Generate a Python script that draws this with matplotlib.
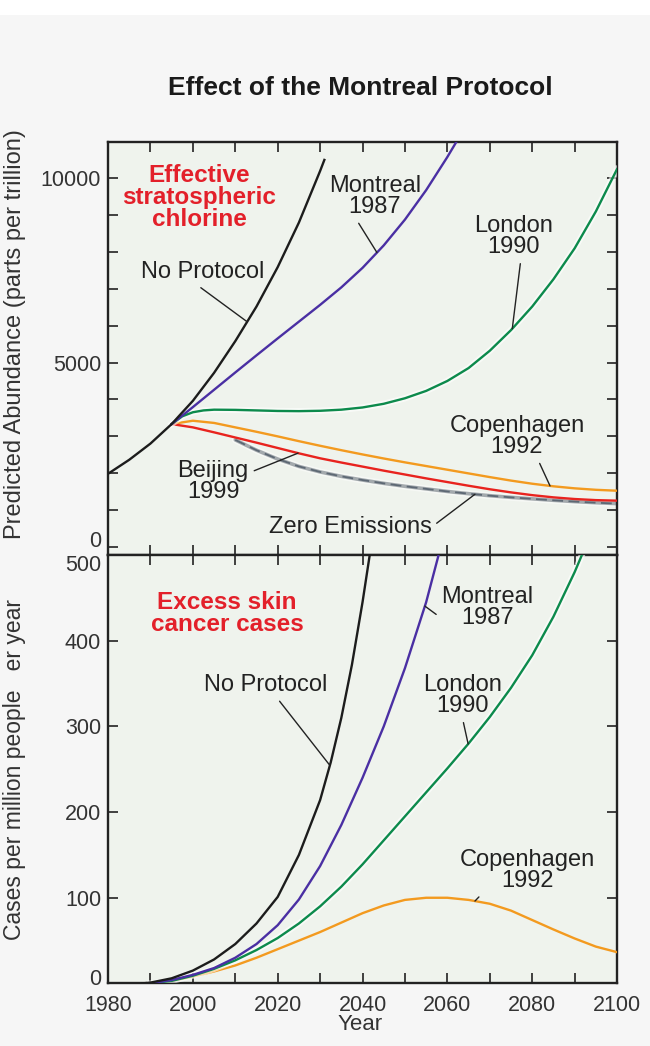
import matplotlib
matplotlib.use("Agg")
import matplotlib.pyplot as plt
import matplotlib.patheffects as pe
from matplotlib.patches import Rectangle
import numpy as np

plt.rcParams['font.family'] = ['Liberation Sans', 'DejaVu Sans']

# --- chlorine (parts per trillion) ---
yr_noprot_cl = [1980, 1985, 1990, 1995, 2000, 2005, 2010, 2015, 2020, 2025, 2030, 2031]
noprot_cl = [1980, 2360, 2800, 3330, 3960, 4720, 5580, 6520, 7590, 8800, 10200, 10500]

yr_montreal_cl = [1995, 2000, 2005, 2010, 2015, 2020, 2025, 2030, 2035, 2040, 2045, 2050, 2055, 2060, 2063]
montreal_cl = [3330, 3790, 4260, 4730, 5195, 5655, 6110, 6565, 7040, 7570, 8180, 8880, 9680, 10580, 11160]

yr_london_cl = [1995, 1997.5, 2000, 2002.5, 2005, 2010, 2015, 2020, 2025, 2030, 2035, 2040, 2045,
                2050, 2055, 2060, 2065, 2070, 2075, 2080, 2085, 2090, 2095, 2100]
london_cl = [3330, 3540, 3650, 3700, 3720, 3715, 3700, 3685, 3680, 3690, 3720, 3780, 3880,
             4030, 4230, 4500, 4850, 5320, 5880, 6520, 7260, 8100, 9100, 10250]

yr_long = [1995, 2000, 2005, 2010, 2015, 2020, 2025, 2030, 2035, 2040, 2045,
           2050, 2055, 2060, 2065, 2070, 2075, 2080, 2085, 2090, 2095, 2100]
copenhagen_cl = [3330, 3420, 3360, 3240, 3120, 2995, 2865, 2740, 2620, 2505, 2395,
                 2290, 2190, 2090, 1990, 1890, 1795, 1710, 1640, 1585, 1545, 1520]
beijing_cl = [3330, 3240, 3105, 2965, 2825, 2680, 2535, 2400, 2285, 2175, 2065,
              1960, 1855, 1755, 1655, 1560, 1475, 1400, 1340, 1295, 1265, 1250]

yr_zero_cl = [2010, 2015, 2020, 2025, 2030, 2035, 2040, 2045, 2050, 2055,
              2060, 2065, 2070, 2075, 2080, 2085, 2090, 2095, 2100]
zero_cl = [2900, 2620, 2380, 2180, 2030, 1910, 1810, 1720, 1640, 1570,
           1500, 1440, 1385, 1340, 1300, 1260, 1225, 1195, 1170]

# --- excess skin cancer cases per million people per year ---
yr_noprot_sc = [1988, 1990, 1995, 2000, 2005, 2010, 2015, 2020, 2025, 2030, 2032.5, 2035, 2037.5, 2040, 2042]
noprot_sc = [0, 1, 6, 15, 28, 46, 70, 101, 150, 214, 258, 310, 372, 445, 510]

yr_montreal_sc = [1990, 1995, 2000, 2005, 2010, 2015, 2020, 2025, 2030, 2035, 2040, 2045, 2050, 2055, 2059]
montreal_sc = [0, 4, 10, 18, 30, 46, 68, 98, 137, 185, 240, 300, 368, 445, 520]

yr_london_sc = [1990, 1995, 2000, 2005, 2010, 2015, 2020, 2025, 2030, 2035, 2040, 2045,
                2050, 2055, 2060, 2065, 2070, 2075, 2080, 2085, 2090, 2093]
london_sc = [0, 3, 9, 17, 27, 39, 53, 70, 90, 113, 139, 167,
             195, 223, 251, 280, 311, 345, 383, 428, 480, 515]

yr_copen_sc = [1990, 1995, 2000, 2005, 2010, 2015, 2020, 2025, 2030, 2035, 2040, 2045,
               2050, 2055, 2060, 2065, 2070, 2075, 2080, 2085, 2090, 2095, 2100]
copen_sc = [0, 3, 8, 14, 21, 30, 40, 50, 60, 71, 82, 91,
            97.5, 100, 100, 97.5, 93, 85, 74, 63, 52.5, 43, 36.5]

C_BLACK = '#1c1c1c'
C_PURPLE = '#4a2fa3'
C_GREEN = '#0c8a4c'
C_ORANGE = '#f39a1f'
C_RED = '#e8231e'
C_TXT = '#222222'
C_HEAD = '#e3202a'

fig = plt.figure(figsize=(6.5, 10.46), dpi=100)
fig.patch.set_facecolor('#f6f6f6')
fig.patches.append(Rectangle((0, 1 - 15 / 1046), 1, 15 / 1046, transform=fig.transFigure,
                             facecolor='white', edgecolor='none', zorder=-1))

fig.text(0.555, 1 - 95 / 1046, 'Effect of the Montreal Protocol', ha='center', va='baseline',
         fontsize=19, fontweight='bold', color='#1a1a1a')

ax1 = fig.add_axes([0.1662, 0.4694, 0.7831, 0.3948])
ax2 = fig.add_axes([0.1662, 0.0598, 0.7831, 0.4096])

halo = [pe.Stroke(linewidth=4.5, foreground='white', alpha=0.6), pe.Normal()]
lw = 1.7

# top panel
ax1.plot(yr_long, copenhagen_cl, color=C_ORANGE, lw=lw, zorder=3)
ax1.plot(yr_long, beijing_cl, color=C_RED, lw=lw, zorder=3)
ax1.plot(yr_zero_cl, zero_cl, color='#a3a9ad', lw=2.6, solid_capstyle='round', zorder=2,
         path_effects=[pe.Stroke(linewidth=5, foreground='white', alpha=0.45), pe.Normal()])
ax1.plot(yr_zero_cl, zero_cl, color='#5d6874', lw=1.3, dashes=(6, 3), zorder=2)
ax1.plot(yr_london_cl, london_cl, color=C_GREEN, lw=lw, zorder=3, path_effects=halo)
ax1.plot(yr_montreal_cl, montreal_cl, color=C_PURPLE, lw=lw, zorder=3)
ax1.plot(yr_noprot_cl, noprot_cl, color=C_BLACK, lw=lw, zorder=4)

# bottom panel
ax2.plot(yr_copen_sc, copen_sc, color=C_ORANGE, lw=lw, zorder=3)
ax2.plot(yr_london_sc, london_sc, color=C_GREEN, lw=lw, zorder=3, path_effects=halo)
ax2.plot(yr_montreal_sc, montreal_sc, color=C_PURPLE, lw=lw, zorder=3)
ax2.plot(yr_noprot_sc, noprot_sc, color=C_BLACK, lw=lw, zorder=4)

for ax in (ax1, ax2):
    ax.set_facecolor('#eff3ed')
    ax.set_xlim(1980, 2100)
    ax.set_xticks(np.arange(1980, 2101, 10))
    ax.tick_params(which='both', direction='in', length=7, width=1.2, top=True, right=True,
                   labelsize=15.5, labelcolor='#333333', pad=5, color='#222222')
    for s in ax.spines.values():
        s.set_linewidth(1.7)
        s.set_color('#222222')

ax1.set_ylim(-225, 10985)
ax1.set_yticks([0, 5000, 10000])
ax1.set_yticks(np.arange(0, 10001, 1000), minor=True)
ax1.tick_params(labelbottom=False)
ax1.get_yticklabels()[0].set_va('baseline')
ax1.set_ylabel('Predicted Abundance (parts per trillion)', fontsize=17, color='#333333')
ax1.yaxis.set_label_coords(-0.161, 0.535)

ax2.set_ylim(0, 500)
ax2.set_yticks(np.arange(0, 501, 100))
ax2.set_yticklabels(['', '100', '200', '300', '400', '500'])
ax2.get_yticklabels()[-1].set_va('top')
# the zero label sits a little above its tick so it clears the 1980 label
ax2.annotate('0', xy=(0, 0), xycoords=('axes fraction', 'data'), xytext=(-5, 3),
             textcoords='offset points', ha='right', va='center', fontsize=15.5, color='#333333')
ax2.set_xticklabels(['1980', '', '2000', '', '2020', '', '2040', '', '2060', '', '2080', '', '2100'])
ax2.tick_params(axis='x', pad=8)
ax2.set_ylabel('Cases per million people   er year', fontsize=16.5, color='#333333')
ax2.yaxis.set_label_coords(-0.161, 0.5)
ax2.set_xlabel('Year', fontsize=16, color='#333333')
ax2.xaxis.set_label_coords(0.495, -0.072)

ax1.text(2001.5, 9490, 'Effective\nstratospheric\nchlorine', ha='center', va='center',
         fontsize=17.5, fontweight='bold', color=C_HEAD, linespacing=0.95)
ax2.text(2008.1, 432, 'Excess skin\ncancer cases', ha='center', va='center',
         fontsize=17.5, fontweight='bold', color=C_HEAD, linespacing=0.95)


def label(ax, txt, xt, yt, xs, ys, x_on, relpos):
    y_on = np.interp(x_on, xs, ys)
    ax.annotate(txt, xy=(x_on, y_on), xytext=(xt, yt), ha='center', va='center',
                fontsize=17, color=C_TXT, linespacing=0.95, zorder=6,
                arrowprops=dict(arrowstyle='-', color=C_TXT, lw=1.0, relpos=relpos,
                                shrinkA=2, shrinkB=0))


label(ax1, 'No Protocol', 2002.2, 7450, yr_noprot_cl, noprot_cl, 2012.8, (0.44, 0))
label(ax1, 'Montreal\n1987', 2042.9, 9505, yr_montreal_cl, montreal_cl, 2043.4, (0.29, 0))
label(ax1, 'London\n1990', 2075.5, 8419, yr_london_cl, london_cl, 2075.3, (0.6, 0))
label(ax1, 'Copenhagen\n1992', 2076.4, 2991, yr_long, copenhagen_cl, 2084.2, (0.65, 0))
label(ax1, 'Beijing\n1999', 2004.8, 1770, yr_long, beijing_cl, 2024.8, (1, 0.7))
label(ax1, 'Zero Emissions', 2037.1, 535, yr_zero_cl, zero_cl, 2066.5, (1, 0.5))

label(ax2, 'No Protocol', 2017.2, 348, yr_noprot_sc, noprot_sc, 2032.3, (0.58, 0))
label(ax2, 'Montreal\n1987', 2069.4, 438.6, yr_montreal_sc, montreal_sc, 2054.7, (0.1, 0.1))
label(ax2, 'London\n1990', 2063.5, 336, yr_london_sc, london_sc, 2064.9, (0.5, 0))
label(ax2, 'Copenhagen\n1992', 2078.8, 131.7, yr_copen_sc, copen_sc, 2066.5, (0.27, 0.3))

fig.savefig('out.png', dpi=100, facecolor=fig.get_facecolor())
